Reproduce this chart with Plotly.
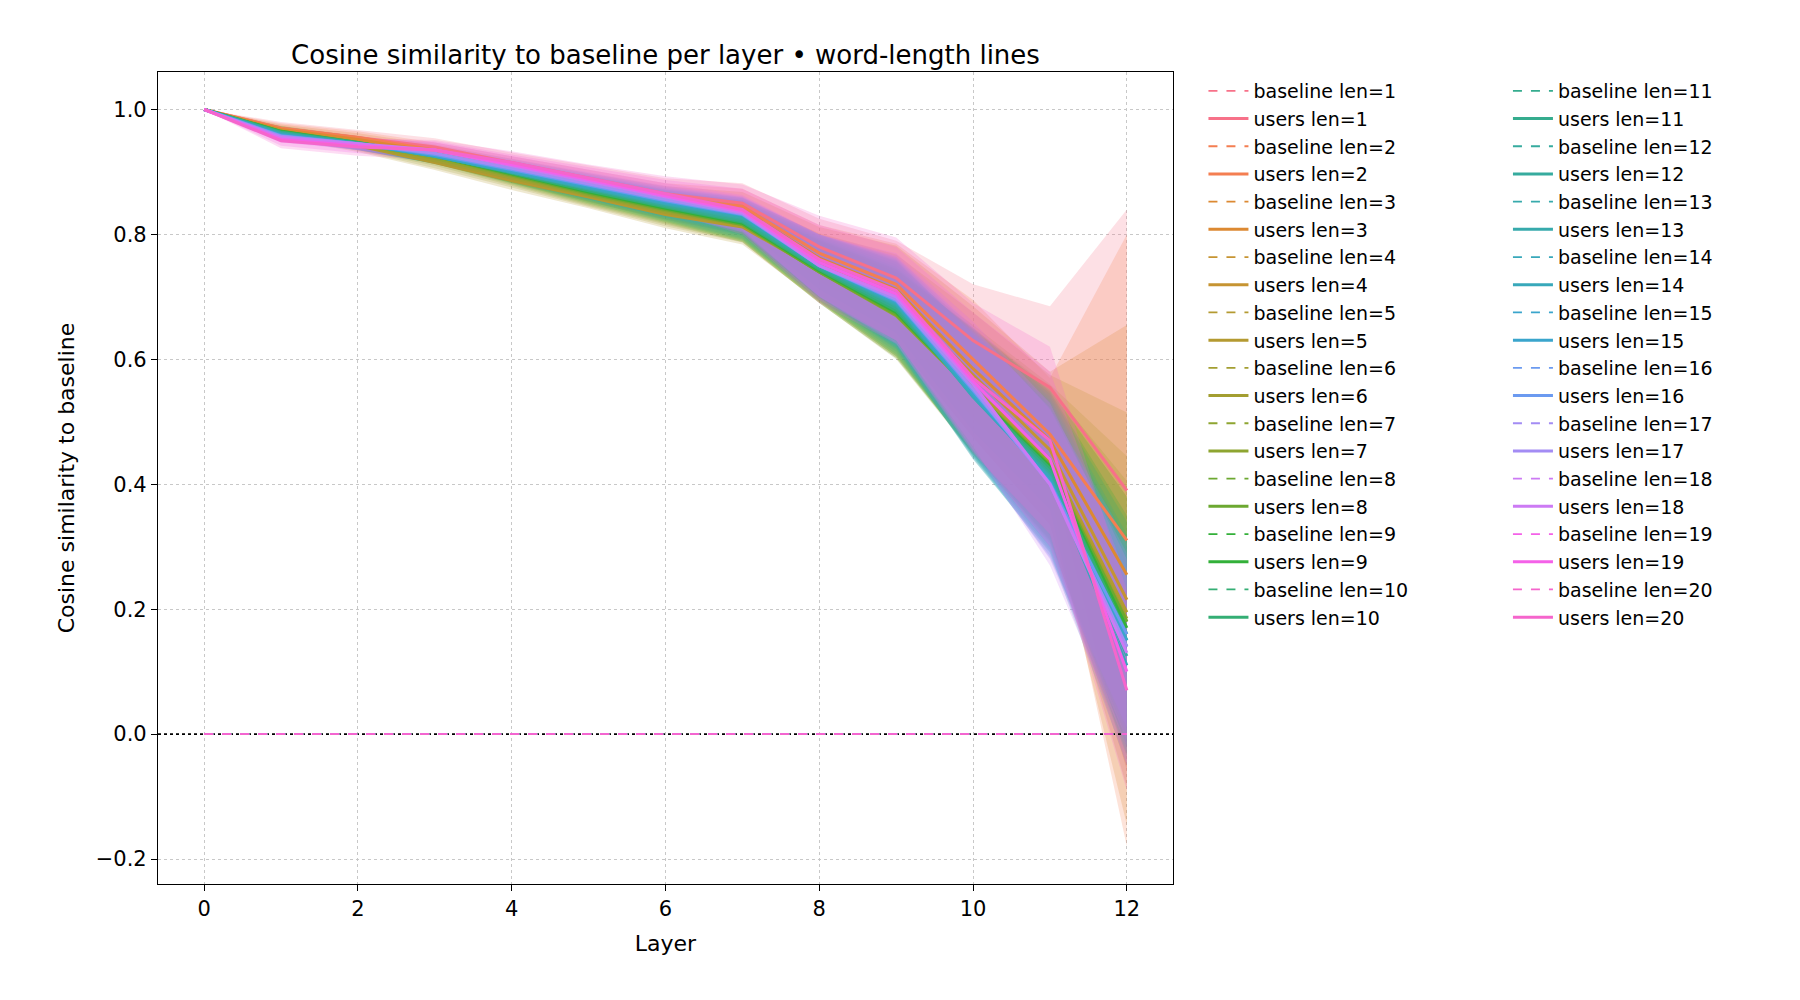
import plotly.graph_objects as go

layers = list(range(13))
lengths = list(range(1, 21))

colors = ['#f77189', '#f47e51', '#dc8932', '#c69432', '#b49a31', '#a39e31', '#8ea531', '#6ca831',
          '#33b039', '#34ae74', '#35ac8e', '#36ab9e', '#37aaac', '#38a8ba', '#3aa5cc', '#6b9af0',
          '#a38cf4', '#cc7af4', '#f461e8', '#f565cc', '#f66bad'][:20]

# mean cosine similarity of users per layer, one list per word length
users = {
    1:  [1, .970, .955, .940, .915, .890, .865, .850, .780, .730, .630, .555, .390],
    2:  [1, .970, .955, .935, .910, .885, .860, .845, .770, .720, .600, .480, .310],
    3:  [1, .968, .952, .932, .906, .880, .855, .840, .762, .712, .585, .470, .255],
    4:  [1, .966, .948, .925, .897, .870, .846, .828, .752, .698, .575, .455, .215],
    5:  [1, .962, .942, .915, .886, .860, .832, .812, .742, .675, .555, .440, .195],
    6:  [1, .963, .944, .918, .890, .862, .835, .815, .740, .672, .550, .435, .185],
    7:  [1, .964, .945, .922, .893, .864, .838, .816, .740, .670, .548, .432, .180],
    8:  [1, .965, .946, .925, .895, .866, .840, .816, .740, .672, .550, .430, .180],
    9:  [1, .965, .947, .926, .897, .868, .842, .818, .742, .675, .548, .428, .170],
    10: [1, .964, .947, .926, .898, .870, .844, .820, .744, .678, .546, .425, .160],
    11: [1, .963, .946, .926, .899, .872, .846, .822, .746, .682, .544, .420, .150],
    12: [1, .962, .946, .926, .900, .873, .848, .825, .748, .686, .542, .415, .140],
    13: [1, .961, .945, .925, .900, .874, .849, .827, .749, .688, .540, .412, .125],
    14: [1, .960, .945, .925, .900, .875, .850, .830, .750, .690, .540, .410, .110],
    15: [1, .959, .945, .926, .902, .877, .852, .831, .750, .692, .545, .405, .150],
    16: [1, .958, .945, .928, .904, .879, .854, .832, .750, .694, .550, .402, .160],
    17: [1, .957, .945, .930, .906, .881, .856, .833, .750, .696, .553, .400, .140],
    18: [1, .955, .945, .935, .910, .885, .860, .835, .750, .700, .560, .400, .130],
    19: [1, .952, .942, .935, .912, .888, .862, .838, .755, .705, .565, .440, .100],
    20: [1, .950, .940, .935, .915, .890, .865, .840, .760, .710, .570, .470, .070],
}

# standard deviation of users per layer
spread = {
    1:  [0, .010, .012, .014, .016, .020, .025, .032, .045, .060, .090, .130, .450],
    2:  [0, .008, .010, .012, .015, .018, .022, .028, .045, .065, .095, .090, .490],
    3:  [0, .008, .010, .012, .015, .018, .022, .028, .050, .070, .100, .110, .400],
    4:  [0, .008, .010, .012, .015, .018, .022, .028, .050, .070, .100, .120, .300],
    5:  [0, .008, .010, .012, .015, .018, .022, .028, .050, .070, .100, .120, .250],
    6:  [0, .008, .010, .012, .015, .018, .022, .028, .050, .070, .100, .120, .220],
    7:  [0, .008, .010, .012, .015, .018, .022, .028, .050, .070, .100, .120, .200],
    8:  [0, .008, .010, .012, .015, .018, .022, .028, .050, .070, .100, .120, .200],
    9:  [0, .008, .010, .012, .015, .018, .022, .028, .050, .070, .100, .120, .180],
    10: [0, .008, .010, .012, .015, .018, .022, .028, .050, .070, .100, .120, .180],
    11: [0, .008, .010, .012, .015, .018, .022, .028, .050, .070, .100, .120, .170],
    12: [0, .008, .010, .012, .015, .018, .022, .028, .050, .070, .100, .120, .170],
    13: [0, .008, .010, .012, .015, .018, .022, .028, .050, .070, .100, .120, .160],
    14: [0, .008, .010, .012, .015, .018, .022, .028, .050, .070, .100, .120, .160],
    15: [0, .008, .010, .012, .015, .018, .022, .028, .050, .070, .100, .120, .150],
    16: [0, .008, .010, .012, .015, .018, .022, .028, .050, .070, .100, .120, .150],
    17: [0, .008, .010, .012, .015, .018, .022, .028, .050, .070, .100, .120, .150],
    18: [0, .008, .010, .012, .015, .018, .022, .028, .050, .070, .100, .130, .150],
    19: [0, .010, .012, .014, .016, .020, .025, .035, .060, .075, .110, .140, .150],
    20: [0, .012, .014, .016, .018, .022, .028, .040, .070, .085, .120, .150, .160],
}

baseline = [0.0] * 13


def rgba(hex_color, a):
    h = hex_color.lstrip('#')
    r, g, b = int(h[0:2], 16), int(h[2:4], 16), int(h[4:6], 16)
    return f'rgba({r},{g},{b},{a})'


fig = go.Figure()

# shaded bands first
for i, n in enumerate(lengths):
    m, s = users[n], spread[n]
    lo = [a - b for a, b in zip(m, s)]
    hi = [a + b for a, b in zip(m, s)]
    fig.add_trace(go.Scatter(x=layers, y=lo, mode='lines', line=dict(width=0),
                             showlegend=False, hoverinfo='skip'))
    fig.add_trace(go.Scatter(x=layers, y=hi, mode='lines', line=dict(width=0),
                             fill='tonexty', fillcolor=rgba(colors[i], 0.22),
                             showlegend=False, hoverinfo='skip'))

# zero reference line
fig.add_trace(go.Scatter(x=[-0.6, 12.6], y=[0, 0], mode='lines',
                         line=dict(color='black', width=1.6, dash='dot'),
                         showlegend=False, hoverinfo='skip'))

for i, n in enumerate(lengths):
    leg = 'legend' if n <= 10 else 'legend2'
    fig.add_trace(go.Scatter(x=layers, y=baseline, mode='lines', name=f'baseline len={n}',
                             line=dict(color=colors[i], width=1.8, dash='dash'), legend=leg,
                             legendgroup=f'b{n}'))
    fig.add_trace(go.Scatter(x=layers, y=users[n], mode='lines', name=f'users len={n}',
                             line=dict(color=colors[i], width=3), legend=leg,
                             legendgroup=f'u{n}'))

axis_common = dict(showline=True, linecolor='black', linewidth=1.2, mirror=True,
                   ticks='outside', ticklen=6, tickcolor='black', zeroline=False,
                   showgrid=True, gridcolor='#c8c8c8', griddash='dot', gridwidth=1,
                   tickfont=dict(size=21, color='black'))

legend_style = dict(font=dict(size=19, color='black'), bgcolor='rgba(0,0,0,0)',
                    yanchor='top', y=1.0, tracegroupgap=10, itemwidth=40,
                    traceorder='normal')

fig.update_layout(
    width=1800, height=1000,
    margin=dict(l=150, r=635, t=64, b=124),
    plot_bgcolor='white', paper_bgcolor='white',
    font=dict(family='DejaVu Sans', color='black'),
    title=dict(text='Cosine similarity to baseline per layer • word-length lines',
               x=(150 + 1165) / 2 / 1800, xanchor='center', y=0.962, font=dict(size=26)),
    xaxis=dict(range=[-0.6, 12.6], tickvals=[0, 2, 4, 6, 8, 10, 12],
               title=dict(text='Layer', font=dict(size=22)), **axis_common),
    yaxis=dict(range=[-0.24, 1.06], tickvals=[-0.2, 0, 0.2, 0.4, 0.6, 0.8, 1.0],
               ticktext=['−0.2', '0.0', '0.2', '0.4', '0.6', '0.8', '1.0'],
               title=dict(text='Cosine similarity to baseline', font=dict(size=22)),
               **axis_common),
    legend=dict(x=1.03, xanchor='left', **legend_style),
    legend2=dict(x=1.33, xanchor='left', **legend_style),
)

fig.write_html('out.html')
